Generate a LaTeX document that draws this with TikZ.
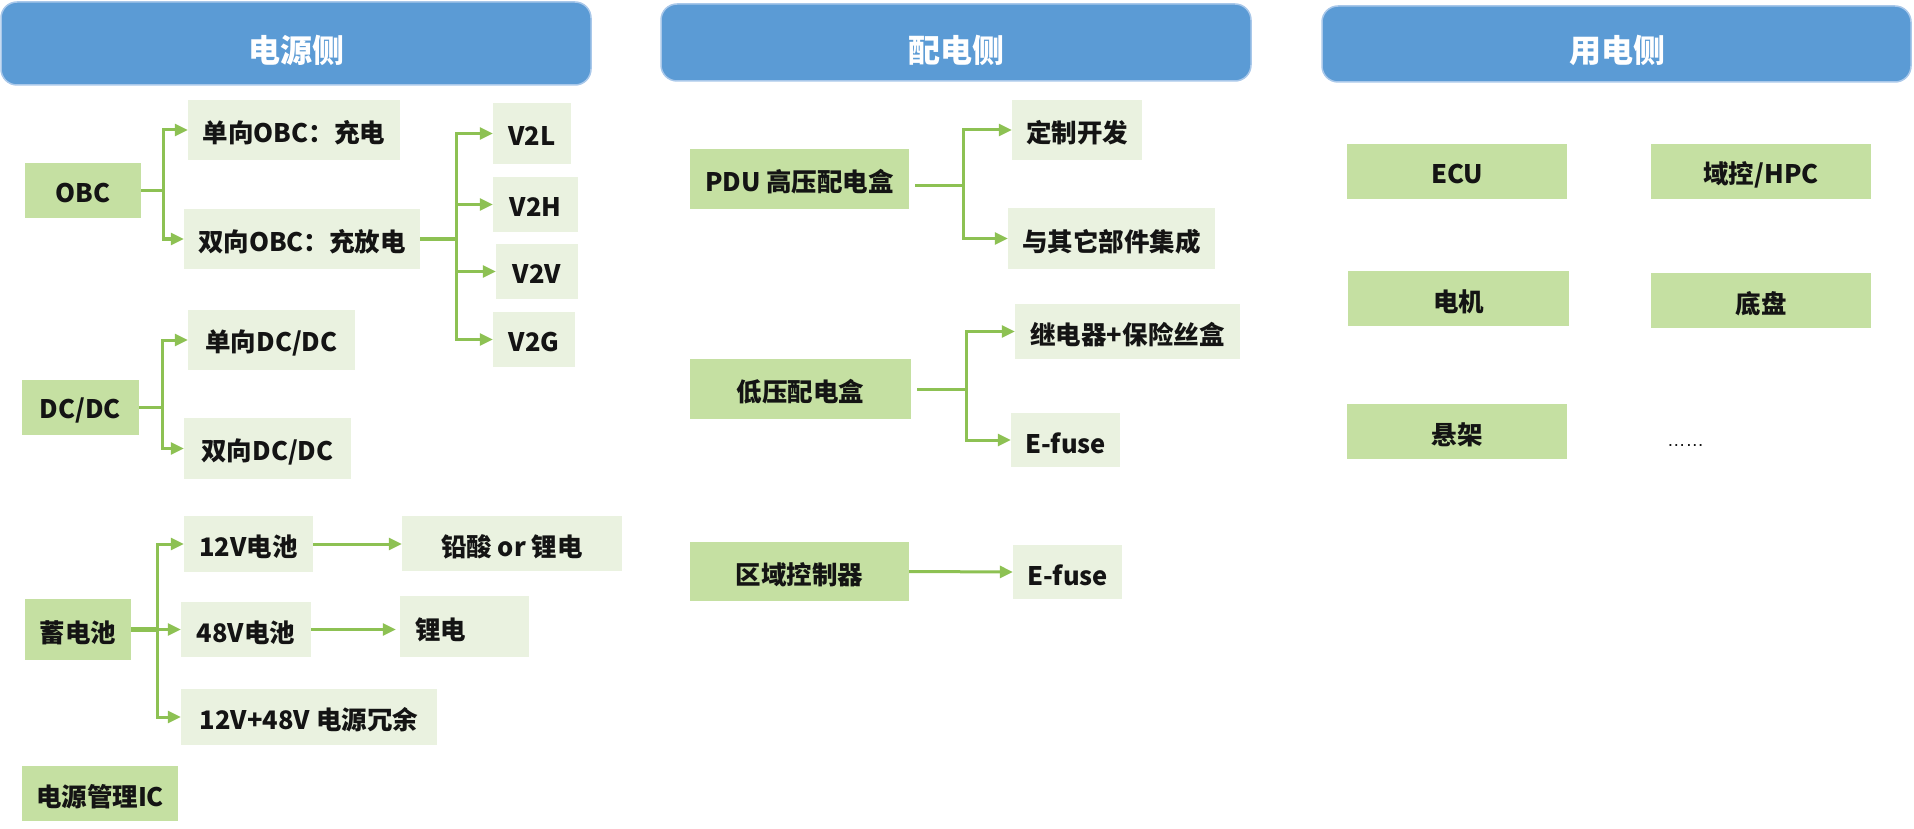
\documentclass[tikz,border=0pt]{standalone}
\usepackage{fontspec}
\setmainfont{Noto Sans CJK SC}
\newfontfamily\dotsfont{Liberation Sans}
\usetikzlibrary{arrows.meta}
\definecolor{hdrfill}{HTML}{5B9BD5}
\definecolor{hdrline}{HTML}{A9C8EA}
\definecolor{gmid}{HTML}{C5E0A2}
\definecolor{glight}{HTML}{EAF2E0}
\definecolor{conn}{HTML}{8DC153}
\definecolor{txt}{HTML}{141414}
\tikzset{
  hdr/.style={draw=hdrline, line width=1.5pt, fill=hdrfill, rounded corners=16pt, inner sep=0pt},
  hdrtext/.style={text=white, font=\fontsize{32}{36}\selectfont\bfseries, inner sep=0pt},
  mainbox/.style={fill=gmid, inner sep=0pt, text=txt, font=\fontsize{25.5}{30}\selectfont\bfseries},
  subbox/.style={fill=glight, inner sep=0pt, text=txt, font=\fontsize{25.5}{30}\selectfont\bfseries},
  link/.style={draw=conn, line width=3pt},
  arr/.style={link, -{Triangle[length=13pt,width=12pt]}},
}
\newcommand\mybox[7]{%
  \node[#1, minimum width={(#4-#2)*1pt}, minimum height={(#5-#3)*1pt}]
    (#6) at ({(#2+#4)/2},{(#3+#5)/2}) {\raisebox{-3pt}[\height][\depth]{#7}};}
\begin{document}
\begin{tikzpicture}[x=1pt,y=-1pt]
\useasboundingbox (0,0) rectangle (1914,829);

% headers
\mybox{hdr}{1}{2}{591}{85}{h1}{}
\node[hdrtext] (h1t) at (296,50) {电源侧};
\mybox{hdr}{661}{4}{1251}{81}{h2}{}
\node[hdrtext] (h2t) at (956,50) {配电侧};
\mybox{hdr}{1322}{6}{1911}{82}{h3}{}
\node[hdrtext] (h3t) at (1617,50) {用电侧};

% power source side
\mybox{mainbox}{25}{163}{141}{218}{obc}{OBC}
\mybox{subbox}{188}{100}{400}{160}{obc1}{单向OBC：充电}
\mybox{subbox}{184}{209}{420}{269}{obc2}{双向OBC：充放电}
\mybox{subbox}{493}{103}{571}{164}{v2l}{V2L}
\mybox{subbox}{493}{177}{578}{232}{v2h}{V2H}
\mybox{subbox}{496}{244}{578}{299}{v2v}{V2V}
\mybox{subbox}{493}{312}{575}{367}{v2g}{V2G}

\mybox{mainbox}{22}{380}{139}{435}{dcdc}{DC/DC}
\mybox{subbox}{188}{310}{355}{370}{dc1}{单向DC/DC}
\mybox{subbox}{184}{418}{351}{479}{dc2}{双向DC/DC}

\mybox{mainbox}{25}{599}{131}{660}{bat}{蓄电池}
\mybox{subbox}{184}{516}{313}{572}{b12}{12V电池}
\mybox{subbox}{181}{602}{311}{657}{b48}{48V电池}
\mybox{subbox}{181}{689}{437}{745}{bred}{12V+48V 电源冗余}
\mybox{subbox}{402}{516}{622}{571}{lead}{铅酸 or 锂电}
\node[subbox, inner xsep=15pt, text width=99pt, align=left, minimum height=61pt]
  (li) at (464.5,626.5) {\raisebox{-3pt}[\height][\depth]{锂电}};
\mybox{mainbox}{22}{766}{178}{821}{pmic}{电源管理IC}

% distribution side
\mybox{mainbox}{690}{149}{909}{209}{pdu}{PDU 高压配电盒}
\mybox{subbox}{1012}{100}{1142}{160}{cust}{定制开发}
\mybox{subbox}{1008}{208}{1215}{269}{integ}{与其它部件集成}
\mybox{mainbox}{690}{359}{911}{419}{lv}{低压配电盒}
\mybox{subbox}{1015}{304}{1240}{359}{relay}{继电器+保险丝盒}
\mybox{subbox}{1011}{413}{1120}{467}{ef1}{E-fuse}
\mybox{mainbox}{690}{542}{909}{601}{zc}{区域控制器}
\mybox{subbox}{1013}{545}{1122}{599}{ef2}{E-fuse}

% load side
\mybox{mainbox}{1347}{144}{1567}{199}{ecu}{ECU}
\mybox{mainbox}{1651}{144}{1871}{199}{dom}{域控/HPC}
\mybox{mainbox}{1348}{271}{1569}{326}{mot}{电机}
\mybox{mainbox}{1651}{273}{1871}{328}{chas}{底盘}
\mybox{mainbox}{1347}{404}{1567}{459}{susp}{悬架}
\node[anchor=base west, inner sep=0pt, text=txt, font=\dotsfont\fontsize{18.5}{22}\selectfont] (more) at (1667,446) {……};

% junction coordinates
\coordinate (jo) at (163,0);
\coordinate (jv) at (456,0);
\coordinate (jd) at (162,0);
\coordinate (jb) at (157,0);
\coordinate (jp) at (963,186);
\coordinate (jl) at (966,0);

% connectors
\draw[arr] (obc.east) -- (obc.east -| jo) |- (obc1.west);
\draw[arr] (obc.east) -- (obc.east -| jo) |- (obc2.west);
\draw[arr] (obc2.east) -- (obc2.east -| jv) |- (v2l.west);
\draw[arr] (obc2.east) -- (obc2.east -| jv) |- (v2h.west);
\draw[arr] (obc2.east) -- (obc2.east -| jv) |- (v2v.west);
\draw[arr] (obc2.east) -- (obc2.east -| jv) |- (v2g.west);

\draw[arr] (dcdc.east) -- (dcdc.east -| jd) |- (dc1.west);
\draw[arr] (dcdc.east) -- (dcdc.east -| jd) |- (dc2.west);

\draw[link, line width=5pt] (bat.east) -- (bat.east -| jb);
\draw[arr] (bat.east -| jb) |- (b12.west);
\draw[arr] (bat.east -| jb) |- (b48.west);
\draw[arr] (bat.east -| jb) |- (bred.west);
\draw[arr] (b12.east) -- (b12.east -| lead.west);
\draw[arr, shorten >=4pt] (b48.east) -- (b48.east -| li.west);

\draw[link, shorten <=6pt] (pdu.east |- jp) -- (jp);
\draw[arr] (jp) |- (cust.west);
\draw[arr] (jp) |- (integ.west);
\draw[link, shorten <=6pt] (lv.east) -- (lv.east -| jl);
\draw[arr] (lv.east -| jl) |- (relay.west);
\draw[arr] (lv.east -| jl) |- (ef1.west);
\draw[arr] (zc.east) -- (ef2.west);
\end{tikzpicture}
\end{document}
